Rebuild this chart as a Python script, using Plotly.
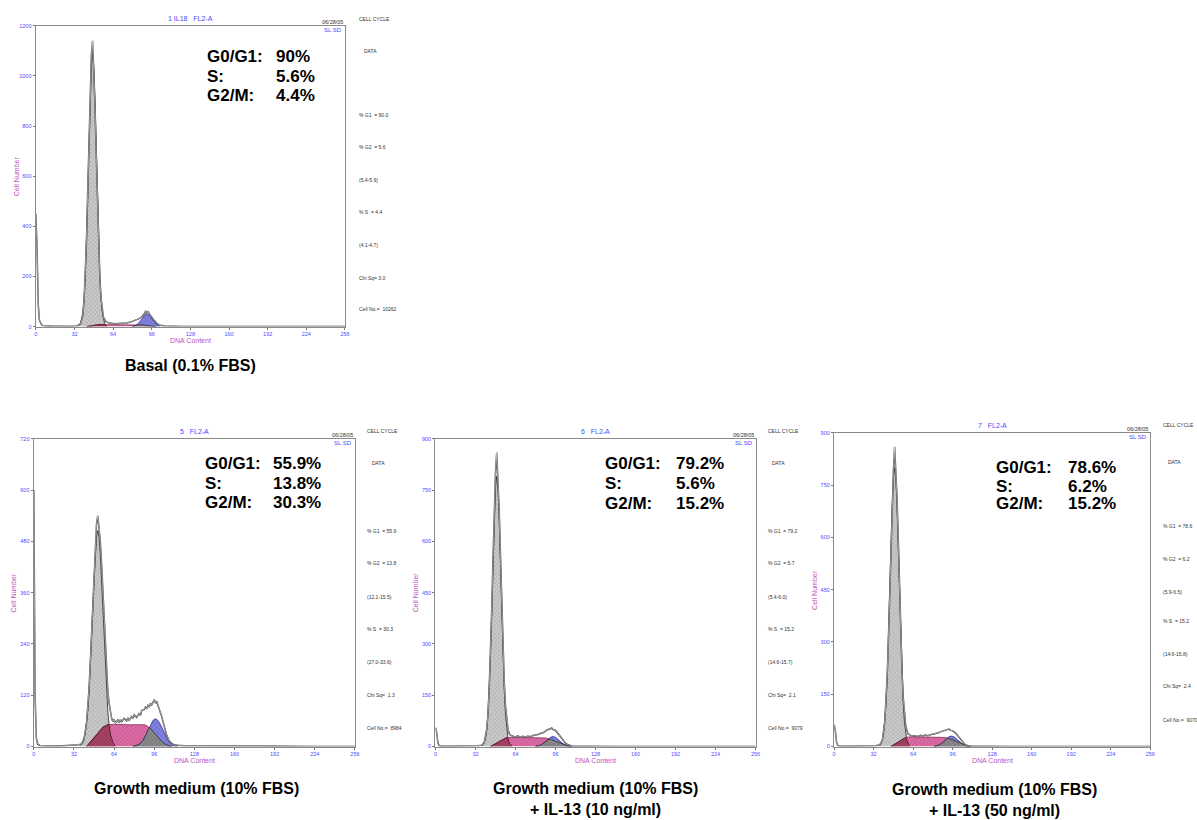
import plotly.graph_objects as go

# ------------------------------------------------------------------ data
X_TICKS = [0, 32, 64, 96, 128, 160, 192, 224, 256]
Y_TICKS_BASAL = [0, 200, 400, 600, 800, 1000, 1200]
Y_TICKS_GM = [0, 120, 240, 360, 480, 600, 720]
Y_TICKS_IL10 = [0, 150, 300, 450, 600, 750, 900]
Y_TICKS_IL50 = [0, 150, 300, 450, 600, 750, 900]

PANEL_TITLES = ["1 IL18   FL2-A", "5   FL2-A", "6   FL2-A", "7   FL2-A"]
DATE_TEXT = "06/28/05"
CORNER_TEXT = "SL SD"
STAT_LABELS = ["G0/G1:", "S:", "G2/M:"]
STAT_BASAL = ["90%", "5.6%", "4.4%"]
STAT_GM = ["55.9%", "13.8%", "30.3%"]
STAT_IL10 = ["79.2%", "5.6%", "15.2%"]
STAT_IL50 = ["78.6%", "6.2%", "15.2%"]

SIDE_BASAL = ["CELL CYCLE", "DATA", "% G1  = 90.0", "% G2  = 5.6", "(5.4-5.9)",
              "% S  = 4.4", "(4.1-4.7)", "Chi Sq= 3.0", "Cell No.=  10262"]
SIDE_GM = ["CELL CYCLE", "DATA", "% G1  = 55.9", "% G2  = 13.8", "(12.1-15.5)",
           "% S  = 30.3", "(27.0-33.6)", "Chi Sq=  1.3", "Cell No.=  8984"]
SIDE_IL10 = ["CELL CYCLE", "DATA", "% G1  = 79.2", "% G2  = 5.7", "(5.4-6.0)",
             "% S  = 15.2", "(14.6-15.7)", "Chi Sq=  2.1", "Cell No.=  9079"]
SIDE_IL50 = ["CELL CYCLE", "DATA", "% G1  = 78.6", "% G2  = 6.2", "(5.9-6.5)",
             "% S  = 15.2", "(14.6-15.8)", "Chi Sq=  2.4", "Cell No.=  9070"]

CAPTION_BASAL = ["Basal (0.1% FBS)"]
CAPTION_GM = ["Growth medium (10% FBS)"]
CAPTION_IL10 = ["Growth medium (10% FBS)", "+ IL-13 (10 ng/ml)"]
CAPTION_IL50 = ["Growth medium (10% FBS)", "+ IL-13 (50 ng/ml)"]

# --- Basal (0.1% FBS)
raw_ch_basal = [0, 1, 2, 3, 5, 8, 15, 25, 34, 37, 39, 40, 41, 42, 43, 44, 45, 46, 47, 48,
                49, 50, 51, 52, 53, 54, 55, 56, 58, 61, 65, 70, 75, 78, 80, 82, 84, 86, 88, 89,
                90, 91, 92, 93, 94, 95, 96, 98, 100, 102, 104, 107, 110, 120, 140, 256]
raw_ct_basal = [450, 320, 90, 25, 6, 2, 1, 0, 2, 12, 45, 110, 210, 350, 540, 740, 930, 1080, 1140, 1030,
                880, 700, 500, 330, 200, 115, 60, 38, 20, 14, 11, 12, 14, 17, 21, 25, 28, 33, 40, 46,
                52, 63, 55, 59, 50, 44, 37, 25, 14, 8, 4, 2, 1, 0, 0, 0]
g1_ch_basal = [35, 37, 39, 40, 41, 42, 43, 44, 45, 46, 47, 48, 49, 50, 51, 52, 53, 54, 55, 57, 59]
g1_ct_basal = [1, 11, 58, 114, 207, 343, 520, 719, 907, 1041, 1090, 1041, 907, 719, 520, 343, 207, 114, 58, 11, 1]
s_ch_basal = [42, 46, 50, 55, 70, 85, 90, 95, 100]
s_ct_basal = [0, 4, 7, 8, 8, 8, 6, 3, 0]
g2_ch_basal = [80, 83, 85, 87, 89, 91, 92, 94, 96, 98, 100, 103]
g2_ct_basal = [1, 5, 13, 26, 41, 49, 50, 45, 33, 18, 8, 1]
ova_ch_basal = [42, 46, 50, 53, 55, 57, 59]
ova_ct_basal = [0, 4, 7, 8, 8, 8, 1]
ovb_ch_basal = [80, 83, 85, 88, 90, 95, 100]
ovb_ct_basal = [1, 5, 8, 7, 6, 3, 0]

# --- Growth medium (10% FBS)
raw_ch_gm = [0, 1, 2, 3, 5, 10, 20, 30, 34, 36, 38, 40, 42, 43, 44, 45, 46, 47, 48, 49,
             50, 51, 52, 53, 54, 55, 56, 57, 58, 59, 60, 61, 62, 63, 64, 65, 66, 67, 68, 69,
             70, 72, 74, 75, 76, 78, 79, 80, 82, 84, 85, 86, 88, 89, 90, 91, 92, 93, 94, 95,
             96, 97, 98, 99, 100, 101, 102, 103, 104, 105, 106, 107, 108, 110, 112, 115, 120, 130, 150, 180,
             220, 256]
raw_ct_gm = [600, 120, 20, 6, 2, 1, 1, 2, 3, 4, 6, 17, 54, 87, 134, 195, 262, 339, 413, 477,
             521, 540, 515, 480, 430, 366, 295, 232, 176, 130, 102, 80, 66, 58, 64, 55, 60, 62, 56, 63,
             58, 66, 60, 67, 62, 70, 65, 74, 68, 78, 72, 84, 86, 92, 88, 96, 93, 100, 97, 104,
             110, 101, 106, 96, 88, 80, 70, 58, 46, 36, 26, 19, 13, 7, 4, 3, 2, 2, 1, 1,
             0, 0]
g1_ch_gm = [37, 39, 41, 42, 43, 44, 45, 46, 47, 48, 49, 50, 51, 52, 53, 54, 55, 56, 57, 58,
            59, 60, 61, 63, 65]
g1_ct_gm = [2, 9, 30, 51, 82, 126, 182, 248, 321, 391, 451, 491, 505, 491, 451, 391, 321, 248, 182, 126,
            82, 51, 30, 9, 2]
s_ch_gm = [42, 46, 50, 55, 59, 65, 75, 85, 88, 90, 92, 94, 96, 98, 100, 102, 104, 106, 108, 110]
s_ct_gm = [0, 14, 30, 45, 51, 52, 51, 51, 51, 49, 45, 39, 32, 25, 18, 12, 7, 4, 1, 0]
g2_ch_gm = [79, 81, 83, 85, 87, 89, 91, 93, 95, 97, 99, 101, 103, 105, 107, 109, 111, 113, 115]
g2_ct_gm = [0.5, 1.4, 3.5, 7.7, 14.7, 25, 38, 51, 61, 65, 61, 51, 38, 25, 15, 8, 3.5, 1.4, 0.5]
ova_ch_gm = [42, 46, 50, 55, 58, 59, 60, 61, 63, 65]
ova_ct_gm = [0, 14, 30, 45, 50, 51, 51, 30, 9, 2]
ovb_ch_gm = [79, 81, 83, 85, 87, 89, 91, 92, 94, 96, 98, 100, 102, 104, 106, 108, 110]
ovb_ct_gm = [0.5, 1.4, 3.5, 7.7, 14.7, 25, 38, 45, 39, 32, 25, 18, 12, 7, 4, 1, 0]

# --- Growth medium + IL-13 (10 ng/ml)
raw_ch_il10 = [0, 1, 2, 3, 5, 10, 20, 30, 34, 37, 39, 41, 42, 43, 44, 45, 46, 47, 48, 49,
               50, 51, 52, 53, 54, 55, 56, 57, 58, 59, 60, 62, 64, 66, 68, 70, 72, 74, 76, 78,
               80, 82, 84, 86, 88, 90, 92, 93, 94, 96, 98, 100, 102, 104, 106, 108, 110, 120, 140, 256]
raw_ct_il10 = [55, 40, 10, 3, 1, 1, 1, 1, 2, 4, 12, 50, 95, 170, 270, 400, 545, 680, 800, 860,
               790, 690, 560, 420, 290, 190, 120, 76, 50, 38, 33, 30, 28, 31, 27, 30, 28, 31, 29, 32,
               33, 35, 38, 40, 45, 50, 52, 54, 50, 47, 38, 28, 18, 10, 5, 2, 1, 1, 0, 0]
g1_ch_il10 = [37, 39, 40, 41, 42, 43, 44, 45, 46, 47, 48, 49, 50, 51, 52, 53, 54, 55, 56, 57, 58, 59, 61]
g1_ct_il10 = [2, 10, 24, 50, 95, 167, 268, 395, 536, 664, 757, 790, 757, 664, 536, 395, 268, 167, 95, 50, 24, 10, 2]
s_ch_il10 = [44, 48, 52, 56, 60, 70, 80, 86, 88, 90, 92, 94, 96, 98, 100, 102, 104, 106, 109]
s_ct_il10 = [0, 8, 18, 25, 27, 27, 27, 26, 25, 23, 21, 18, 15, 12, 9, 6, 3.5, 2, 0]
g2_ch_il10 = [80, 82, 84, 86, 88, 90, 92, 94, 96, 98, 100, 102, 104, 106, 108]
g2_ct_il10 = [0.6, 1.6, 3.9, 8.1, 14, 21, 27, 29, 27, 21, 14, 8.1, 3.9, 1.6, 0.6]
ova_ch_il10 = [44, 48, 52, 56, 57, 58, 59, 61]
ova_ct_il10 = [0, 8, 18, 25, 26, 24, 10, 2]
ovb_ch_il10 = [80, 82, 84, 86, 88, 90, 91, 92, 94, 96, 98, 100, 102, 104, 106, 108, 109]
ovb_ct_il10 = [0.6, 1.6, 3.9, 8.1, 14, 21, 22, 21, 18, 15, 12, 9, 6, 3.5, 1.6, 0.6, 0]

# --- Growth medium + IL-13 (50 ng/ml)
raw_ch_il50 = [0, 1, 2, 3, 5, 10, 20, 30, 34, 37, 39, 41, 42, 43, 44, 45, 46, 47, 48, 49,
               50, 51, 52, 53, 54, 55, 56, 57, 58, 59, 60, 62, 64, 66, 68, 70, 72, 74, 76, 78,
               80, 82, 84, 86, 88, 90, 92, 93, 94, 96, 98, 100, 102, 104, 106, 108, 110, 120, 140, 256]
raw_ct_il50 = [63, 45, 12, 3, 1, 1, 1, 1, 2, 5, 18, 70, 125, 205, 310, 440, 580, 700, 790, 860,
               800, 710, 590, 450, 320, 215, 140, 90, 60, 45, 36, 32, 30, 31, 29, 32, 30, 33, 31, 34,
               35, 37, 39, 42, 44, 46, 48, 50, 47, 45, 40, 31, 21, 12, 6, 3, 1, 1, 0, 0]
g1_ch_il50 = [37, 39, 40, 41, 42, 43, 44, 45, 46, 47, 48, 49, 50, 51, 52, 53, 54, 55, 56, 57, 58, 59, 61]
g1_ct_il50 = [3, 17, 35, 68, 121, 199, 305, 431, 566, 686, 770, 800, 770, 686, 566, 431, 305, 199, 121, 68, 35, 17, 3]
s_ch_il50 = [46, 50, 54, 58, 62, 70, 80, 88, 90, 92, 94, 96, 98, 100, 102, 104, 106, 108, 111]
s_ct_il50 = [0, 9, 19, 26, 28, 28, 28, 27, 26, 24, 22, 19, 16, 12, 9, 6, 3.5, 1.5, 0]
g2_ch_il50 = [81, 83, 85, 87, 89, 91, 93, 95, 97, 99, 101, 103, 105, 107, 109]
g2_ct_il50 = [0.6, 1.7, 4, 8.5, 15, 22, 28, 30, 28, 22, 15, 8.5, 4, 1.7, 0.6]
ova_ch_il50 = [46, 50, 54, 56, 57, 58, 59, 61]
ova_ct_il50 = [0, 9, 19, 23, 25, 26, 17, 3]
ovb_ch_il50 = [81, 83, 85, 87, 89, 91, 92, 94, 96, 98, 100, 102, 104, 106, 108, 111]
ovb_ct_il50 = [0.6, 1.7, 4, 8.5, 15, 22, 24, 22, 19, 16, 12, 9, 6, 3.5, 1.5, 0]

# ------------------------------------------------------------------ layout helpers
W, H = 1197, 820
FONT = "Liberation Sans, Arial, sans-serif"
BLUE = "#4b4bff"
MAGENTA = "#c050c0"


def fx(px):
    return px / W


def fy(py):
    return 1 - py / H


panels = [
    dict(box=(34, 345, 23, 326), yt=Y_TICKS_BASAL,
         raw=(raw_ch_basal, raw_ct_basal), g1=(g1_ch_basal, g1_ct_basal), s=(s_ch_basal, s_ct_basal),
         g2=(g2_ch_basal, g2_ct_basal), ova=(ova_ch_basal, ova_ct_basal), ovb=(ovb_ch_basal, ovb_ct_basal),
         stats=STAT_BASAL, stat_pos=(204, 274, [53, 73, 92]),
         side=SIDE_BASAL, side_x=357, side_y=[16, 48, 113, 145, 178, 211, 244, 277, 308],
         caption=CAPTION_BASAL, cap_pos=(190, [364]), title=PANEL_TITLES[0]),
    dict(box=(32, 355, 439, 749), yt=Y_TICKS_GM,
         raw=(raw_ch_gm, raw_ct_gm), g1=(g1_ch_gm, g1_ct_gm), s=(s_ch_gm, s_ct_gm),
         g2=(g2_ch_gm, g2_ct_gm), ova=(ova_ch_gm, ova_ct_gm), ovb=(ovb_ch_gm, ovb_ct_gm),
         stats=STAT_GM, stat_pos=(202, 271, [463, 483, 502]),
         side=SIDE_GM, side_x=365, side_y=[431, 463, 532, 564, 598, 631, 664, 697, 730],
         caption=CAPTION_GM, cap_pos=(196, [790]), title=PANEL_TITLES[1]),
    dict(box=(436, 758, 439, 749), yt=Y_TICKS_IL10,
         raw=(raw_ch_il10, raw_ct_il10), g1=(g1_ch_il10, g1_ct_il10), s=(s_ch_il10, s_ct_il10),
         g2=(g2_ch_il10, g2_ct_il10), ova=(ova_ch_il10, ova_ct_il10), ovb=(ovb_ch_il10, ovb_ct_il10),
         stats=STAT_IL10, stat_pos=(605, 676, [463, 483, 503]),
         side=SIDE_IL10, side_x=768, side_y=[431, 463, 532, 564, 598, 631, 664, 697, 730],
         caption=CAPTION_IL10, cap_pos=(597, [790, 811]), title=PANEL_TITLES[2]),
    dict(box=(837, 1155, 433, 749), yt=Y_TICKS_IL50,
         raw=(raw_ch_il50, raw_ct_il50), g1=(g1_ch_il50, g1_ct_il50), s=(s_ch_il50, s_ct_il50),
         g2=(g2_ch_il50, g2_ct_il50), ova=(ova_ch_il50, ova_ct_il50), ovb=(ovb_ch_il50, ovb_ct_il50),
         stats=STAT_IL50, stat_pos=(998, 1070, [467, 486, 503]),
         side=SIDE_IL50, side_x=1166, side_y=[425, 462, 527, 560, 593, 623, 656, 688, 722],
         caption=CAPTION_IL50, cap_pos=(998, [791, 812]), title=PANEL_TITLES[3]),
]

FILLS = {
    "g1": dict(bg="#cacaca", fg="#707070"),
    "s": dict(bg="#dc6ca6", fg="#8a2a5a"),
    "g2": dict(bg="#8484e0", fg="#2c2c96"),
    "ova": dict(bg="#a84466", fg="#4a1020"),
    "ovb": dict(bg="#8c8c8c", fg="#303030"),
}

fig = go.Figure()
annotations = []


def ann(text, px, py, size, color="#000", xanchor="left", yanchor="middle", angle=0):
    annotations.append(dict(text=text, x=fx(px), y=fy(py), xref="paper", yref="paper",
                            xanchor=xanchor, yanchor=yanchor, showarrow=False, textangle=angle,
                            font=dict(family=FONT, size=size, color=color)))


for i, p in enumerate(panels, start=1):
    sfx = "" if i == 1 else str(i)
    xa, ya = "x" + sfx, "y" + sfx
    x0, x1, y0, y1 = p["box"]
    ymax = p["yt"][-1]

    for key in ["g1", "s", "g2", "ova", "ovb"]:
        cx, cy = p[key]
        c = FILLS[key]
        fig.add_trace(go.Scatter(
            x=cx, y=cy, xaxis=xa, yaxis=ya, mode="lines", fill="tozeroy",
            fillcolor=c["bg"],
            fillpattern=dict(shape="x", bgcolor=c["bg"], fgcolor=c["fg"], size=3, solidity=0.25),
            line=dict(color="#222" if key == "g1" else c["fg"], width=0.8),
            hoverinfo="skip", showlegend=False))
    rx, ry = p["raw"]
    fig.add_trace(go.Scatter(x=rx, y=ry, xaxis=xa, yaxis=ya, mode="lines",
                             line=dict(color="#3a3a3a", width=1.5), hoverinfo="skip", showlegend=False))
    fig.add_trace(go.Scatter(x=rx, y=ry, xaxis=xa, yaxis=ya, mode="lines",
                             line=dict(color="#ffffff", width=0.5), hoverinfo="skip", showlegend=False))

    axis_common = dict(showline=True, mirror=True, linecolor="#8a8a8a", linewidth=1.4,
                       ticks="outside", ticklen=2, tickwidth=1, tickcolor="#777",
                       tickfont=dict(family=FONT, size=5.5, color=BLUE),
                       showgrid=False, zeroline=False, fixedrange=True)
    fig.update_layout(**{
        "xaxis" + sfx: dict(domain=[fx(x0), fx(x1)], range=[0, 256], anchor=ya,
                            tickvals=X_TICKS, ticktext=[str(v) for v in X_TICKS], **axis_common),
        "yaxis" + sfx: dict(domain=[fy(y1), fy(y0)], range=[0, ymax], anchor=xa,
                            tickvals=p["yt"], ticktext=[str(v) for v in p["yt"]], **axis_common),
    })

    # axis titles
    ann("Cell Number", x0 - 20, (y0 + y1) / 2, 7, MAGENTA, xanchor="center", angle=-90)
    ann("DNA Content", (x0 + x1) / 2, y1 + 14, 7, MAGENTA, xanchor="center")
    # header texts
    ann(p["title"], (x0 + x1) / 2, y0 - 7, 7, BLUE, xanchor="center")
    ann(DATE_TEXT, x1, y0 - 4, 5.5, "#333", xanchor="right")
    ann(CORNER_TEXT, x1 - 1, y0 + 4, 6, BLUE, xanchor="right")
    # big statistics
    lx, vx, ys = p["stat_pos"]
    for lab, val, yy in zip(STAT_LABELS, p["stats"], ys):
        ann("<b>" + lab + "</b>", lx, yy + 1, 17, "#000")
        ann("<b>" + val + "</b>", vx, yy + 1, 17, "#000")
    # side column
    for j, (t, yy) in enumerate(zip(p["side"], p["side_y"])):
        ann(t, p["side_x"] + (5 if j == 1 else 0), yy, 5, "#333")
    # caption
    cxp, cys = p["cap_pos"]
    for t, yy in zip(p["caption"], cys):
        ann("<b>" + t + "</b>", cxp, yy + 1, 16, "#000", xanchor="center")

fig.update_layout(width=W, height=H, margin=dict(l=0, r=0, t=0, b=0),
                  paper_bgcolor="white", plot_bgcolor="white",
                  annotations=annotations, showlegend=False)

fig.write_html("out.html", config={"displayModeBar": False},
               post_script="document.body.style.margin='0px';document.body.style.overflow='hidden';")
